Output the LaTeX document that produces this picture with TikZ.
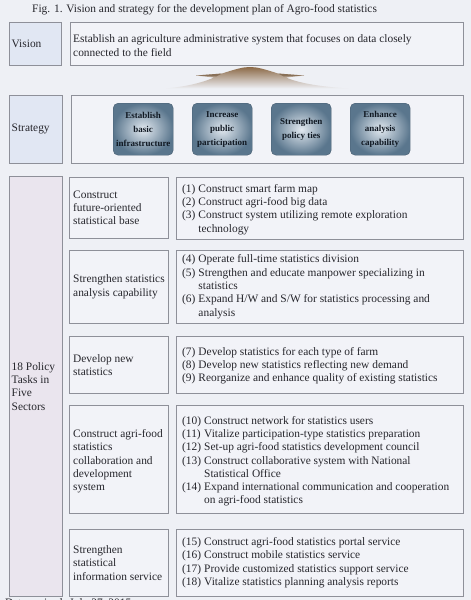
\documentclass[tikz,border=0pt]{standalone}
\usepackage{fontspec}
\setmainfont{Liberation Serif}
\usetikzlibrary{positioning}
\definecolor{bg}{HTML}{EEF0F5}
\definecolor{boxfill}{HTML}{F2F3F8}
\definecolor{bord}{HTML}{8E9099}
\definecolor{labblue}{HTML}{E1E7F3}
\definecolor{labpink}{HTML}{EAE5EE}
\definecolor{btnout}{HTML}{5A768D}
\definecolor{btnin}{HTML}{E2E9F0}
\definecolor{btntext}{HTML}{101822}
\definecolor{mtop}{HTML}{8C6A48}
\definecolor{mmid}{HTML}{D2B48E}
\definecolor{txtcol}{HTML}{26262C}
\newcommand{\fs}{\fontsize{11.4}{13.3}\selectfont}
\newcommand{\bfs}{\fontsize{9}{14}\selectfont\bfseries}
\begin{document}
\begin{tikzpicture}[x=1pt,y=-1pt,
  frame/.style={draw=bord, line width=0.8pt, fill=boxfill, anchor=north west, inner sep=0pt},
  labbox/.style={frame, fill=labblue},
  pinkbox/.style={frame, fill=labpink},
  txt/.style={font=\fs, text=txtcol, align=left, inner sep=0pt},
  btn/.style={draw=btnout!80!black, line width=0.4pt, rounded corners=5pt, inner color=btnin, outer color=btnout,
    minimum width=60pt, minimum height=52pt, inner sep=0pt, align=center, font=\bfs, text=btntext, anchor=north west}
]
\useasboundingbox (0,0) rectangle (471,600);
\fill[bg] (0,0) rectangle (471,600);

% title
\node[txt, anchor=west] (title) at (32,10) {Fig. 1. Vision and strategy for the development plan of Agro-food statistics};

% vision
\node[labbox, minimum width=52pt, minimum height=43pt] (vlab) at (9,22) {};
\node[txt, anchor=west] (vlabt) at ([xshift=2.5pt]vlab.west) {Vision};
\node[frame, minimum width=393pt, minimum height=43pt] (vbox) at (70,22) {};
\node[txt, anchor=west] (vboxt) at ([xshift=3pt,yshift=-1.5pt]vbox.west) {Establish an agriculture administrative system that focuses on data closely\\connected to the field};

% mound
\path[top color=mtop, middle color=mmid, bottom color=bg, shading angle=0]
  (166,88.5) .. controls (192,86) and (206,81) .. (214,77.5) -- (196,75.5) -- (222,73.5)
  .. controls (236,69) and (243,67) .. (250,67) .. controls (257,67) and (264,69) .. (278,73.5)
  -- (304,75.5) -- (286,77.5) .. controls (294,81) and (310,86) .. (348,88.5) -- cycle;
\fill[mtop!80!black, opacity=0.6] (196,75.5) -- (222,73.5) -- (216,76.5) -- cycle;
\fill[mtop!80!black, opacity=0.6] (304,75.5) -- (278,73.5) -- (284,76.5) -- cycle;

% strategy
\node[labbox, minimum width=53pt, minimum height=68pt] (slab) at (9,95) {};
\node[txt, anchor=west] (slabt) at ([xshift=2.5pt]slab.west) {Strategy};
\node[frame, minimum width=392pt, minimum height=68pt] (sbox) at (71,95) {};
\node[btn] (b1) at (113,103) {Establish\\basic\\infrastructure};
\node[btn] (b2) at (192,103) {Increase\\public\\participation};
\node[btn] (b3) at (271,103) {Strengthen\\policy ties};
\node[btn] (b4) at (350,103) {Enhance\\analysis\\capability};

% 18 policy tasks
\node[pinkbox, minimum width=53pt, minimum height=420pt] (plab) at (9,176) {};
\node[txt, anchor=west] (plabt) at ([xshift=2.5pt]plab.west) {18 Policy\\Tasks in\\Five\\Sectors};

% row 1
\node[frame, minimum width=99pt, minimum height=61pt] (s1) at (69,177) {};
\node[txt, anchor=west] (s1t) at ([xshift=4pt]s1.west) {Construct\\future-oriented\\statistical base};
\node[frame, minimum width=287pt, minimum height=62pt] (t1) at (176,177) {};
\node[txt, anchor=west] (t1t) at ([xshift=6pt,yshift=-1pt]t1.west) {\begin{tabular}{@{}l@{\hspace{3pt}}l@{}}
(1) & Construct smart farm map\\
(2) & Construct agri-food big data\\
(3) & Construct system utilizing remote exploration\\
 & technology
\end{tabular}};

% row 2
\node[frame, minimum width=99pt, minimum height=73pt] (s2) at (69,250) {};
\node[txt, anchor=west] (s2t) at ([xshift=4pt]s2.west) {Strengthen statistics\\analysis capability};
\node[frame, minimum width=287pt, minimum height=73pt] (t2) at (176,250) {};
\node[txt, anchor=west] (t2t) at ([xshift=6pt]t2.west) {\begin{tabular}{@{}l@{\hspace{3pt}}l@{}}
(4) & Operate full-time statistics division\\
(5) & Strengthen and educate manpower specializing in\\
 & statistics\\
(6) & Expand H/W and S/W for statistics processing and\\
 & analysis
\end{tabular}};

% row 3
\node[frame, minimum width=99pt, minimum height=57pt] (s3) at (69,336) {};
\node[txt, anchor=west] (s3t) at ([xshift=4pt]s3.west) {Develop new\\statistics};
\node[frame, minimum width=287pt, minimum height=57pt] (t3) at (176,336) {};
\node[txt, anchor=west] (t3t) at ([xshift=6pt,yshift=-1pt]t3.west) {\begin{tabular}{@{}l@{\hspace{3pt}}l@{}}
(7) & Develop statistics for each type of farm\\
(8) & Develop new statistics reflecting new demand\\
(9) & Reorganize and enhance quality of existing statistics
\end{tabular}};

% row 4
\node[frame, minimum width=99pt, minimum height=108pt] (s4) at (69,405) {};
\node[txt, anchor=west] (s4t) at ([xshift=4pt,yshift=-2pt]s4.west) {Construct agri-food\\statistics\\collaboration and\\development\\system};
\node[frame, minimum width=287pt, minimum height=108pt] (t4) at (176,405) {};
\node[txt, anchor=west] (t4t) at ([xshift=6pt,yshift=-2pt]t4.west) {\begin{tabular}{@{}l@{\hspace{3pt}}l@{}}
(10) & Construct network for statistics users\\
(11) & Vitalize participation-type statistics preparation\\
(12) & Set-up agri-food statistics development council\\
(13) & Construct collaborative system with National\\
 & Statistical Office\\
(14) & Expand international communication and cooperation\\
 & on agri-food statistics
\end{tabular}};

% row 5
\node[frame, minimum width=99pt, minimum height=67pt] (s5) at (69,529) {};
\node[txt, anchor=west] (s5t) at ([xshift=4pt]s5.west) {Strengthen\\statistical\\information service};
\node[frame, minimum width=287pt, minimum height=67pt] (t5) at (176,529) {};
\node[txt, anchor=west] (t5t) at ([xshift=6pt]t5.west) {\begin{tabular}{@{}l@{\hspace{3pt}}l@{}}
(15) & Construct agri-food statistics portal service\\
(16) & Construct mobile statistics service\\
(17) & Provide customized statistics support service\\
(18) & Vitalize statistics planning analysis reports
\end{tabular}};

% footer (cut off at page edge, as in the reference)
\node[txt, anchor=base west] (foot) at (5,606) {Date revised: July 27, 2015};
\end{tikzpicture}
\end{document}
